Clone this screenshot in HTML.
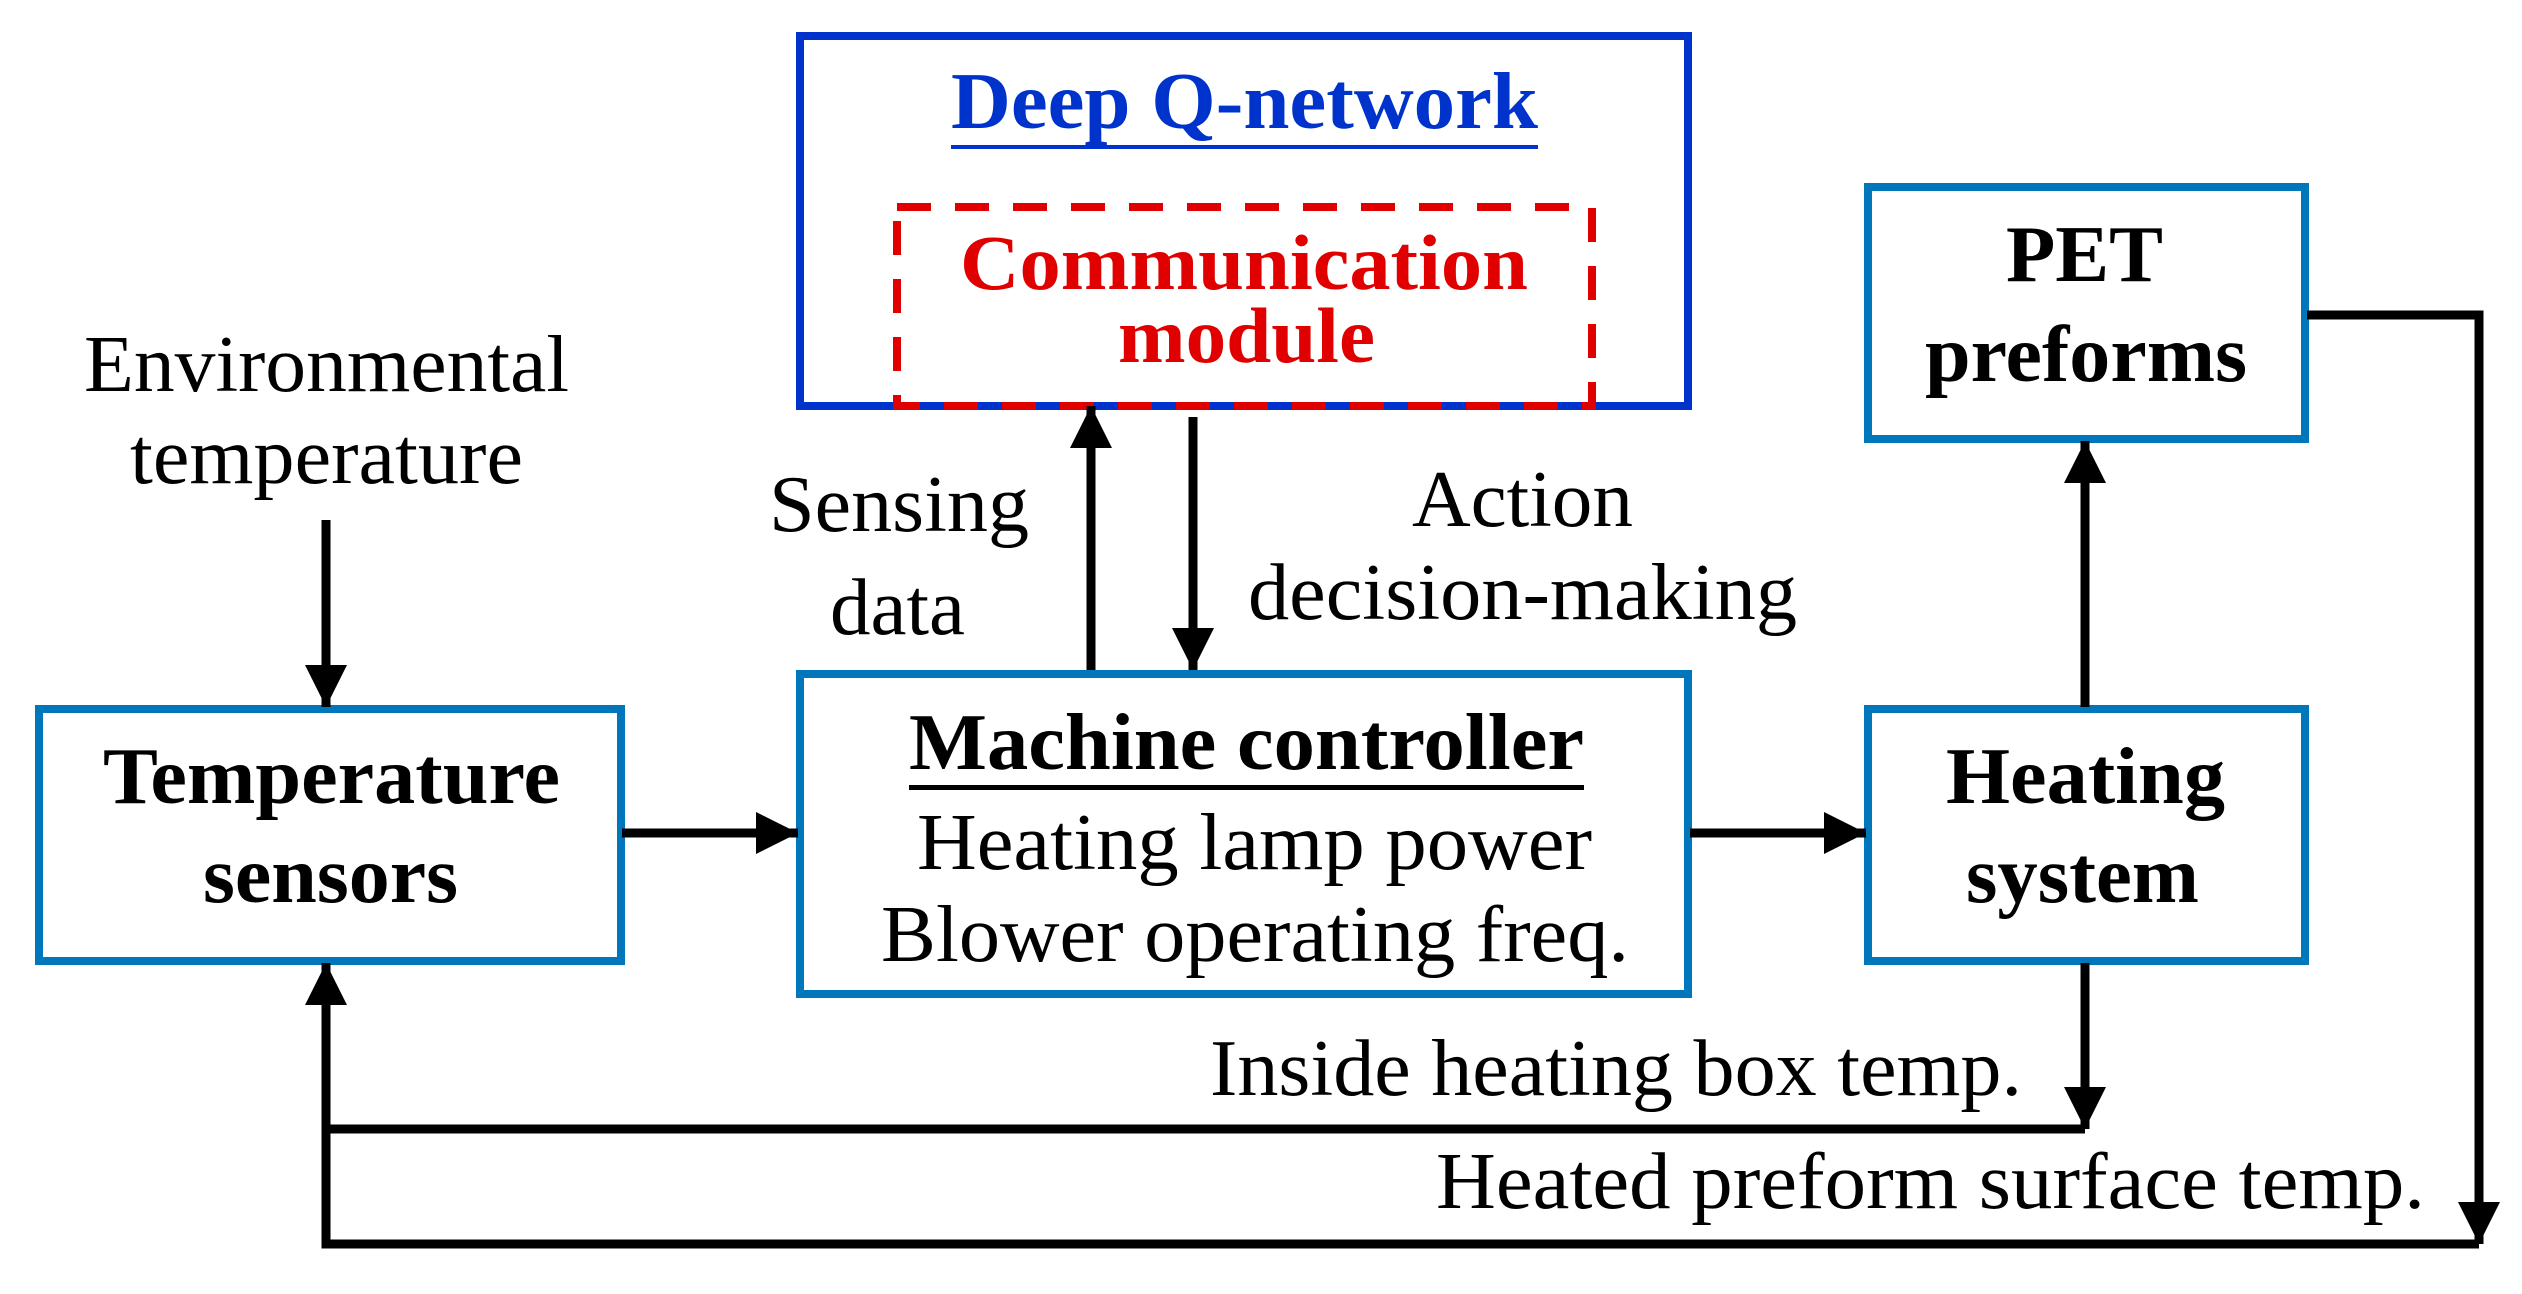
<!DOCTYPE html>
<html><head><meta charset="utf-8"><style>
html,body{margin:0;padding:0;background:#fff;}
svg{display:block;}
text{font-family:"Liberation Serif",serif;}
.b{font-weight:bold;}
</style></head><body>
<svg width="2522" height="1294" viewBox="0 0 2522 1294" xmlns="http://www.w3.org/2000/svg">
<defs>
<marker id="ah" markerUnits="userSpaceOnUse" markerWidth="44" markerHeight="44" refX="42" refY="21" orient="auto">
<path d="M0,0 L42,21 L0,42 Z" fill="#000"/>
</marker>
</defs>
<g fill="none" stroke-width="8">
<rect x="800" y="36" width="888" height="370" stroke="#0033cc"/>
<rect x="897" y="207" width="695" height="199" stroke="#e00000" stroke-dasharray="34 24"/>
<rect x="39" y="709" width="582" height="252" stroke="#0077bb"/>
<rect x="800" y="674" width="888" height="320" stroke="#0077bb"/>
<rect x="1868" y="709" width="437" height="252" stroke="#0077bb"/>
<rect x="1868" y="187" width="437" height="252" stroke="#0077bb"/>
</g>
<g stroke="#000" stroke-width="9" fill="none">
<line x1="326" y1="520" x2="326" y2="707" marker-end="url(#ah)"/>
<line x1="622" y1="833" x2="798" y2="833" marker-end="url(#ah)"/>
<line x1="1690" y1="833" x2="1866" y2="833" marker-end="url(#ah)"/>
<line x1="1091" y1="670" x2="1091" y2="406" marker-end="url(#ah)"/>
<line x1="1193" y1="417" x2="1193" y2="670" marker-end="url(#ah)"/>
<line x1="2085" y1="707" x2="2085" y2="441" marker-end="url(#ah)"/>
<line x1="2085" y1="963" x2="2085" y2="1129" marker-end="url(#ah)"/>
<polyline points="2085,1129 326,1129"/>
<polyline points="2307,315 2479,315 2479,1244" marker-end="url(#ah)"/>
<polyline points="2479,1244 326,1244 326,963" marker-end="url(#ah)"/>
</g>
<text class="b" x="951" y="128" font-size="80" fill="#0033cc" textLength="587" lengthAdjust="spacingAndGlyphs">Deep Q-network</text>
<rect x="951" y="145" width="587" height="4" fill="#0033cc"/>
<text class="b" x="960" y="289" font-size="78" fill="#e00000" textLength="568" lengthAdjust="spacingAndGlyphs">Communication</text>
<text class="b" x="1118" y="362" font-size="78" fill="#e00000" textLength="257" lengthAdjust="spacingAndGlyphs">module</text>
<text x="84" y="391" font-size="80" textLength="485" lengthAdjust="spacingAndGlyphs">Environmental</text>
<text x="130" y="483" font-size="80" textLength="393" lengthAdjust="spacingAndGlyphs">temperature</text>
<text class="b" x="103" y="803" font-size="80" textLength="457" lengthAdjust="spacingAndGlyphs">Temperature</text>
<text class="b" x="203" y="902" font-size="80" textLength="255" lengthAdjust="spacingAndGlyphs">sensors</text>
<text x="769" y="531" font-size="80" textLength="260" lengthAdjust="spacingAndGlyphs">Sensing</text>
<text x="830" y="634" font-size="80" textLength="135" lengthAdjust="spacingAndGlyphs">data</text>
<text x="1412" y="526" font-size="80" textLength="221" lengthAdjust="spacingAndGlyphs">Action</text>
<text x="1248" y="619" font-size="80" textLength="549" lengthAdjust="spacingAndGlyphs">decision-making</text>
<text class="b" x="909" y="769" font-size="80" textLength="675" lengthAdjust="spacingAndGlyphs">Machine controller</text>
<rect x="909" y="785" width="675" height="5" fill="#000"/>
<text x="917" y="869" font-size="80" textLength="675" lengthAdjust="spacingAndGlyphs">Heating lamp power</text>
<text x="881" y="961" font-size="80" textLength="748" lengthAdjust="spacingAndGlyphs">Blower operating freq.</text>
<text class="b" x="1946" y="803" font-size="80" textLength="279" lengthAdjust="spacingAndGlyphs">Heating</text>
<text class="b" x="1966" y="902" font-size="80" textLength="233" lengthAdjust="spacingAndGlyphs">system</text>
<text class="b" x="2006" y="281" font-size="80" textLength="157" lengthAdjust="spacingAndGlyphs">PET</text>
<text class="b" x="1925" y="381" font-size="80" textLength="322" lengthAdjust="spacingAndGlyphs">preforms</text>
<text x="1210" y="1095" font-size="80" textLength="812" lengthAdjust="spacingAndGlyphs">Inside heating box temp.</text>
<text x="1436" y="1208" font-size="80" textLength="989" lengthAdjust="spacingAndGlyphs">Heated preform surface temp.</text>
</svg>
</body></html>
